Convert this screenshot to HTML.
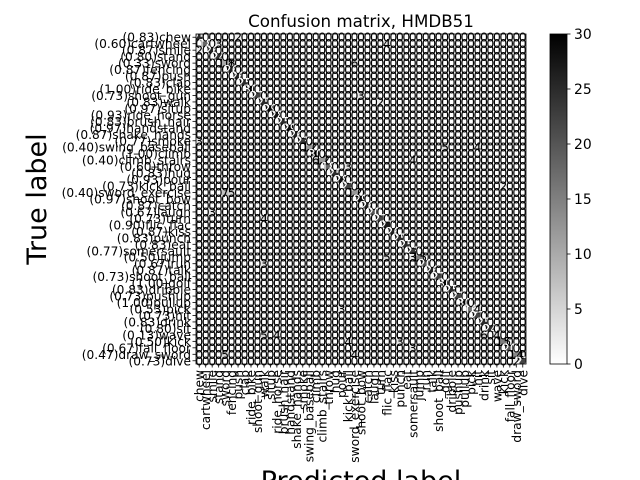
<!DOCTYPE html>
<html><head><meta charset="utf-8">
<style>
body{margin:0;background:#fff;}
svg{display:block;font-family:"DejaVu Sans","Liberation Sans",sans-serif;}
</style></head>
<body>
<svg id="chart" width="640" height="480">
<text x="361" y="27" text-anchor="middle" font-size="16.7">Confusion matrix, HMDB51</text>
<text x="0" y="0" transform="translate(46,199) rotate(-90)" text-anchor="middle" font-size="27">True label</text>
<text x="361" y="490" text-anchor="middle" font-size="27">Predicted label</text>
<g id="cells"></g><g id="texts"></g><g id="yt"></g><g id="xt"></g><g id="cbar"></g>
</svg>
<script>
const classes=["chew","cartwheel","smile","stand","sword","fencing","push","clap","ride_bike","shoot_gun","walk","situp","ride_horse","brush_hair","handstand","shake_hands","smoke","swing_baseball","climb","climb_stairs","throw","hug","pour","kick_ball","sword_exercise","shoot_bow","catch","laugh","turn","flic_flac","kiss","punch","eat","somersault","jump","run","talk","shoot_ball","golf","dribble","pushup","pullup","pick","hit","drink","sit","wave","kick","fall_floor","draw_sword","dive"];
const diagonal=[25,18,26,24,10,26,26,25,30,22,25,29,28,25,29,26,23,12,30,12,18,25,28,22,12,29,26,20,22,27,26,25,25,23,15,20,26,22,30,25,22,30,16,22,25,24,4,15,20,14,22];
const offRow=[0,1,1,2,4,4,9,10,16,17,17,19,19,20,23,24,24,27,28,34,34,35,42,42,46,46,46,47,47,48,49,49,50];
const offCol=[6,3,29,0,5,24,25,28,0,38,43,18,33,23,47,4,5,2,10,33,29,10,43,22,10,44,12,23,31,33,4,24,49];
const offVal=[2,3,4,2,8,6,3,2,3,5,4,6,4,3,2,7,5,3,4,3,5,3,4,3,5,6,4,4,3,3,5,4,2];
const cbTicks=[0,5,10,15,20,25,30];
const vmax=30, n=classes.length;
const x0=196,y0=34,W=330,H=330,cw=W/n,ch=H/n;
const ns="http://www.w3.org/2000/svg";
function xs(j){return x0+j*cw;}
function ys(i){return y0+i*ch;}
function col(v){const g=Math.round(255*(1-v/vmax));return `rgb(${g},${g},${g})`;}
const M=[];for(let i=0;i<n;i++){M.push(new Array(n).fill(0));M[i][i]=diagonal[i];}
for(let k=0;k<offRow.length;k++)M[offRow[k]][offCol[k]]=offVal[k];
const cells=document.getElementById('cells'),texts=document.getElementById('texts');
for(let i=0;i<n;i++)for(let j=0;j<n;j++){
 const r=document.createElementNS(ns,'rect');
 r.setAttribute('x',xs(j));r.setAttribute('y',ys(i));r.setAttribute('width',cw+0.3);r.setAttribute('height',ch+0.3);r.setAttribute('fill',col(M[i][j]));
 
 
 cells.appendChild(r);
 const t=document.createElementNS(ns,'text');
 t.setAttribute('x',xs(j)+cw/2);t.setAttribute('y',ys(i)+ch/2+4.5);t.setAttribute('text-anchor','middle');t.setAttribute('font-size','12.5');
 t.setAttribute('fill',M[i][j]>vmax/2?'#fff':'#000');
 t.textContent=M[i][j];
 
 
 texts.appendChild(t);
}
const fr=document.createElementNS(ns,'rect');
fr.setAttribute('x',x0);fr.setAttribute('y',y0);fr.setAttribute('width',W);fr.setAttribute('height',H);fr.setAttribute('fill','none');fr.setAttribute('stroke','#000');fr.setAttribute('stroke-width','0.8');


texts.appendChild(fr);
const yt=document.getElementById('yt'),xt=document.getElementById('xt');
for(let i=0;i<n;i++){
 const c=ys(i)+ch/2;
 const l=document.createElementNS(ns,'line');l.setAttribute('x1',x0-3.5);l.setAttribute('x2',x0);l.setAttribute('y1',c);l.setAttribute('y2',c);l.setAttribute('stroke','#000');l.setAttribute('stroke-width','0.8');
 
 
 yt.appendChild(l);
 const t=document.createElementNS(ns,'text');t.setAttribute('x',x0-5);t.setAttribute('y',c+4.5);t.setAttribute('text-anchor','end');t.setAttribute('font-size','12.2');
 t.textContent='('+(diagonal[i]/30).toFixed(2)+')'+classes[i];
 
 
 yt.appendChild(t);
 const cx=xs(i)+cw/2;
 const l2=document.createElementNS(ns,'line');l2.setAttribute('x1',cx);l2.setAttribute('x2',cx);l2.setAttribute('y1',y0+H);l2.setAttribute('y2',y0+H+3.5);l2.setAttribute('stroke','#000');l2.setAttribute('stroke-width','0.8');
 
 
 xt.appendChild(l2);
 const t2=document.createElementNS(ns,'text');t2.setAttribute('transform',`translate(${cx+4.5},${y0+H+6}) rotate(-90)`);t2.setAttribute('text-anchor','end');t2.setAttribute('font-size','12.2');
 t2.textContent=classes[i];
 
 
 xt.appendChild(t2);
}
const cb=document.getElementById('cbar');
const defs=document.createElementNS(ns,'defs');
defs.innerHTML='<linearGradient id="g" x1="0" y1="1" x2="0" y2="0"><stop offset="0" stop-color="#fff"/><stop offset="1" stop-color="#000"/></linearGradient>';
cb.appendChild(defs);
const cbx=550,cbw=17;
const cr=document.createElementNS(ns,'rect');cr.setAttribute('x',cbx);cr.setAttribute('y',y0);cr.setAttribute('width',cbw);cr.setAttribute('height',H);cr.setAttribute('fill','url(#g)');cr.setAttribute('stroke','#000');cr.setAttribute('stroke-width','0.8');


cb.appendChild(cr);
cbTicks.forEach(v=>{
 const y=y0+H-v/vmax*H;
 const l=document.createElementNS(ns,'line');l.setAttribute('x1',cbx+cbw);l.setAttribute('x2',cbx+cbw+3.5);l.setAttribute('y1',y);l.setAttribute('y2',y);l.setAttribute('stroke','#000');l.setAttribute('stroke-width','0.8');
 
 
 cb.appendChild(l);
 const t=document.createElementNS(ns,'text');t.setAttribute('x',cbx+cbw+7);t.setAttribute('y',y+5);t.setAttribute('font-size','13.9');t.textContent=v;
 
 
 cb.appendChild(t);
});
</script>
</body></html>
